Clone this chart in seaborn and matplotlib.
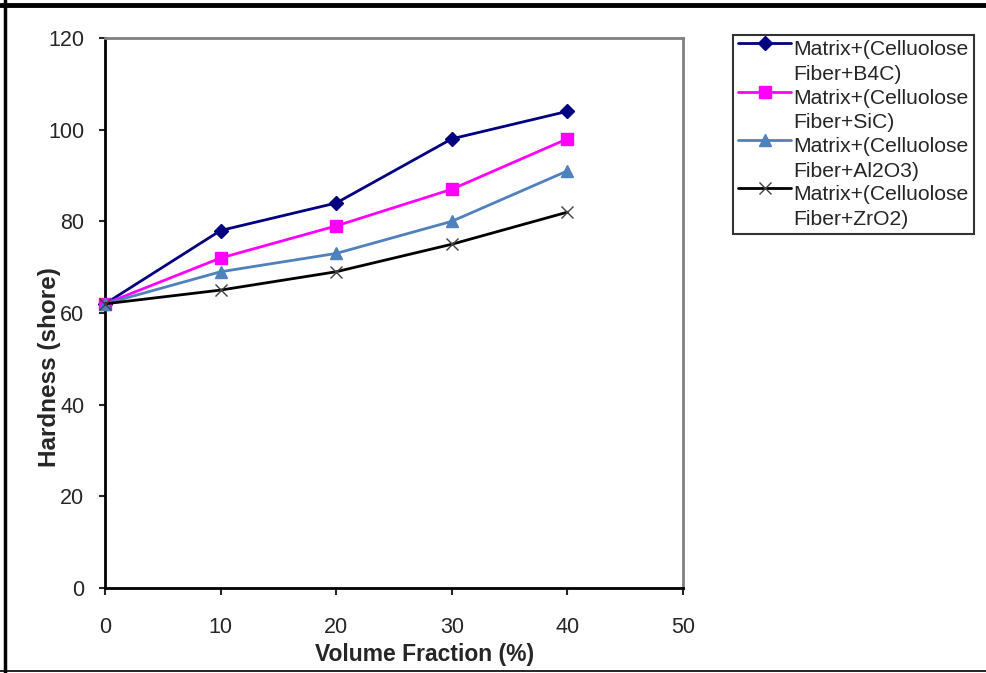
import matplotlib
matplotlib.use("Agg")
import matplotlib.pyplot as plt
import seaborn as sns
import pandas as pd
from matplotlib.lines import Line2D
from matplotlib.legend_handler import HandlerLine2D

# ---- data ----
volume_fraction = [0, 10, 20, 30, 40]
b4c = [62, 78, 84, 98, 104]
sic = [62, 72, 79, 87, 98]
al2o3 = [62, 69, 73, 80, 91]
zro2 = [62, 65, 69, 75, 82]
labels = ["Matrix+(Celluolose\nFiber+B4C)",
          "Matrix+(Celluolose\nFiber+SiC)",
          "Matrix+(Celluolose\nFiber+Al2O3)",
          "Matrix+(Celluolose\nFiber+ZrO2)"]
x_ticks = [0, 10, 20, 30, 40, 50]
y_ticks = [0, 20, 40, 60, 80, 100, 120]

series = [b4c, sic, al2o3, zro2]
styles = [
    dict(color="#000080", marker="D", markersize=7, lw=2.0, mec="#000080", mew=1),
    dict(color="#FF00FF", marker="s", markersize=9, lw=2.0, mec="#FF00FF", mew=1),
    dict(color="#4F81BD", marker="^", markersize=9, lw=2.0, mec="#4F81BD", mew=1),
    dict(color="#000000", marker="x", markersize=9, lw=2.0, mec="#404040", mew=1.0),
]

sns.set_style("white")
plt.rcParams["font.family"] = ["Liberation Sans", "DejaVu Sans"]

fig = plt.figure(figsize=(9.87, 6.73), dpi=100)
ax = fig.add_axes([105/987, 1-588/673, 578/987, 550/673])

for vals, lab, st in zip(series, labels, styles):
    df = pd.DataFrame({"x": volume_fraction, "y": vals})
    sns.lineplot(data=df, x="x", y="y", ax=ax, color=st["color"], marker=st["marker"],
                 markersize=st["markersize"], linewidth=st["lw"], markeredgecolor=st["mec"],
                 markeredgewidth=st["mew"], label=lab, legend=False, clip_on=False, zorder=3)

ax.set_xlim(0, 50)
ax.set_ylim(0, 120)
ax.set_xticks(x_ticks)
ax.set_yticks(y_ticks)
ax.tick_params(axis="x", direction="out", length=5, width=1.5, pad=16, labelsize=15.5, bottom=True)
ax.tick_params(axis="y", direction="out", length=4, width=1.5, pad=11, labelsize=15.5, left=True)

for side in ["left", "bottom"]:
    ax.spines[side].set_color("black")
    ax.spines[side].set_linewidth(2)
for side in ["top", "right"]:
    ax.spines[side].set_color("#808080")
    ax.spines[side].set_linewidth(2)

ax.set_xlabel("Volume Fraction (%)", fontsize=16.5, fontweight="bold")
ax.set_ylabel("Hardness (shore)", fontsize=17.5, fontweight="bold")
ax.xaxis.set_label_coords((425-105)/578, (588-643)/550)
ax.yaxis.set_label_coords((61-105)/578, (588-367)/550)


class UpHandler(HandlerLine2D):
    def create_artists(self, legend, orig_handle, xdescent, ydescent, width, height, fontsize, trans):
        arts = super().create_artists(legend, orig_handle, xdescent, ydescent, width, height, fontsize, trans)
        for a in arts:
            a.set_ydata([y + fontsize * 0.9 for y in a.get_ydata()])
        return arts


handles, labs = ax.get_legend_handles_labels()
leg = fig.legend(handles, labs, loc="upper left", bbox_to_anchor=(733/987, 1-35/673),
                 bbox_transform=fig.transFigure, fontsize=15.2, frameon=True, fancybox=False,
                 edgecolor="black", borderpad=0.25, labelspacing=0.2, handlelength=2.5,
                 handletextpad=0.12, borderaxespad=0,
                 handler_map={h: UpHandler(numpoints=1) for h in handles})
leg.get_frame().set_linewidth(1.5)
for t in leg.get_texts():
    t.set_linespacing(1.4)

# outer figure frame
fig.add_artist(Line2D([0, 1], [1-4.5/673, 1-4.5/673], transform=fig.transFigure, color="black", lw=3.5))
fig.add_artist(Line2D([5.5/987, 5.5/987], [0, 1], transform=fig.transFigure, color="black", lw=2.5))
fig.add_artist(Line2D([0, 1], [1-671/673, 1-671/673], transform=fig.transFigure, color="black", lw=1.2))

fig.savefig("out.png", dpi=100)
